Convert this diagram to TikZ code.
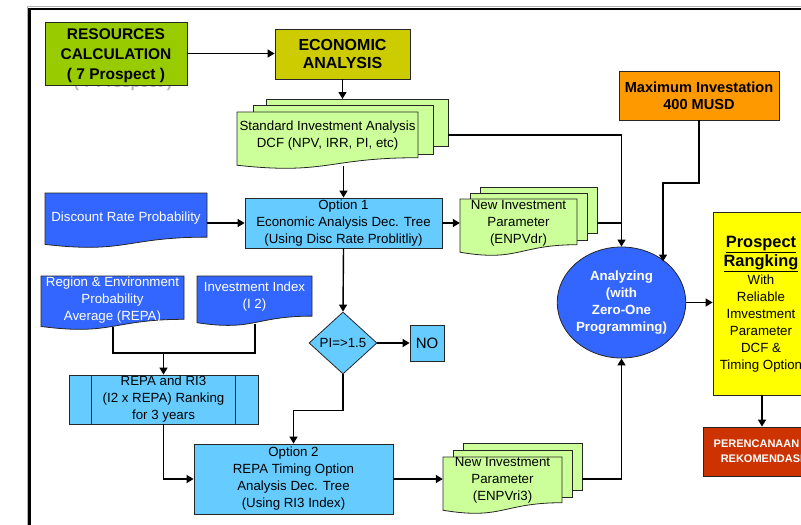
\documentclass[tikz,border=0pt]{standalone}
\usepackage{fontspec}
\setmainfont{Liberation Sans}
\usetikzlibrary{arrows.meta,shapes.geometric,calc}
\definecolor{resgreen}{HTML}{99CC00}
\definecolor{econcol}{HTML}{CCCC00}
\definecolor{orangecol}{HTML}{FF9900}
\definecolor{docgreen}{HTML}{CCFF99}
\definecolor{lblue}{HTML}{66CCFF}
\definecolor{dblue}{HTML}{3366FF}
\definecolor{ylw}{HTML}{FFFF00}
\definecolor{redcol}{HTML}{CC3300}
\newcommand{\docshp}[5]{\filldraw[docline,fill=#5] (#1,#2) -- ({#1+#3},#2) -- ({#1+#3},{#2+0.802*#4}) .. controls ({#1+0.5*#3},{#2+0.802*#4}) and ({#1+0.5*#3},{#2+1.1075*#4}) .. (#1,{#2+0.934*#4}) -- cycle;}
\newcommand{\layerrect}[5]{\filldraw[docline,fill=#5] (#1,#2) rectangle (#3,#4);}
\begin{document}
\begin{tikzpicture}[x=1pt,y=-1pt,
  docline/.style={draw=black!85,line width=0.8pt},
  box/.style={draw=black!85,line width=0.8pt,align=center,inner sep=0pt},
  txt/.style={align=center,inner sep=0pt,font=\fontsize{13.3}{17}\selectfont},
  arr/.style={line width=1.4pt,-{Triangle[length=7pt,width=8pt]}},
  ln/.style={line width=1.4pt}]
\useasboundingbox (0,0) rectangle (801,525);
\clip (0,0) rectangle (801,525);
% frame
\draw[black!30,line width=1pt] (27.5,525) -- (27.5,6.8) -- (801,6.8);
\draw[black,line width=2.2pt] (29.5,525) -- (29.5,9) -- (801,9);
% ghost text
\node[inner sep=0pt,text=black!28,font=\fontsize{15.5}{20}\selectfont\bfseries] at (123,83) {( 7 Prospect )};
% top boxes
\node[box,fill=resgreen,minimum width=142,minimum height=63] (res) at (116,53.5) {};
\node[align=center,inner sep=0pt,font=\fontsize{15.5}{20}\selectfont\bfseries] at (116,56) {RESOURCES\\CALCULATION\\( 7 Prospect )};
\node[box,fill=econcol,minimum width=135,minimum height=50,font=\fontsize{16}{18.5}\selectfont\bfseries] (econ) at (342.5,54) {ECONOMIC\\ANALYSIS};
\node[box,fill=orangecol,minimum width=160,minimum height=49,font=\fontsize{14.6}{17}\selectfont\bfseries] (maxinv) at (699,95.5) {Maximum Investation\\400 MUSD};
% standard investment analysis multi-document
\layerrect{266}{99}{448}{146}{docgreen}
\layerrect{253}{105}{433}{154}{docgreen}
\docshp{237}{112}{181}{57}{docgreen}
\node[txt,minimum width=181] (sia) at (327.5,135.5) {Standard Investment Analysis\\DCF (NPV, IRR, PI, etc)};
\coordinate (siaT) at (342.5,99);
\coordinate (siaB) at (343.5,166);
\coordinate (siaR) at (448,135);
% discount rate doc
\docshp{45}{193}{162}{55}{dblue}
\node[txt,text=white,minimum width=162] (disc) at (126,218.3) {Discount Rate Probability};
% option 1
\node[box,txt,draw=black!85,fill=lblue,minimum width=197,minimum height=50] (opt1) at (343.5,223) {Option 1\\Economic Analysis Dec. Tree\\(Using Disc Rate Problitliy)};
% ENPVdr multi doc
\layerrect{480}{187}{597}{233}{docgreen}
\layerrect{470}{193}{587}{240}{docgreen}
\docshp{460}{199}{117}{57}{docgreen}
\node[txt,minimum width=117] (dr) at (518.5,223.5) {New Investment\\Parameter\\(ENPVdr)};
\coordinate (drR) at (597,223);
% REPA and index docs
\docshp{41}{276}{143}{54}{dblue}
\node[txt,text=white,minimum width=143] (repa) at (112.5,300) {Region \& Environment\\Probability\\Average (REPA)};
\docshp{197}{276}{115}{50}{dblue}
\node[txt,text=white,minimum width=115] (inv) at (254.5,297) {Investment Index\\(I 2)};
\coordinate (repaB) at (113,327);
\coordinate (invB) at (255,324);
\coordinate (jn2) at (180,353);
\coordinate (jn) at (163.5,353);
% diamond and NO
\node[diamond,draw=black!85,line width=0.8pt,fill=lblue,inner sep=0pt,minimum width=68,minimum height=62,font=\fontsize{13.3}{17}\selectfont] (dia) at (343,343) {PI=>1.5};
\node[box,txt,draw=black!85,fill=lblue,minimum width=34,minimum height=36,font=\fontsize{15}{17}\selectfont] (no) at (427,343) {NO};
% REPA and RI3 predefined process
\node[box,txt,draw=black!85,fill=lblue,minimum width=189,minimum height=49] (repa3) at (163.5,399.5) {REPA and RI3\\(I2 x REPA) Ranking\\for 3 years};
\draw[docline] ([xshift=23pt]repa3.north west) -- ([xshift=23pt]repa3.south west);
\draw[docline] ([xshift=-23pt]repa3.north east) -- ([xshift=-23pt]repa3.south east);
% option 2
\node[box,txt,draw=black!85,fill=lblue,minimum width=199,minimum height=70] (opt2) at (293.5,479) {Option 2\\REPA Timing Option\\Analysis Dec. Tree\\(Using RI3 Index)};
% ENPVri3 multi doc
\layerrect{463}{443}{582}{490}{docgreen}
\layerrect{453}{450}{572}{497}{docgreen}
\docshp{443}{457}{119}{57}{docgreen}
\node[txt,minimum width=119] (ri3) at (502.5,480) {New Investment\\Parameter\\(ENPVri3)};
\coordinate (ri3R) at (582,479);
% analyzing
\node[ellipse,draw=black!85,line width=0.8pt,fill=dblue,inner sep=0pt,minimum width=119,minimum height=111,align=center,text=white,font=\fontsize{13.3}{17}\selectfont\bfseries] (ana) at (621.5,302.5) {Analyzing\\(with\\Zero-One\\Programming)};
\coordinate (mi1) at (663,183);
% prospect ranking
\node[box,fill=ylw,minimum width=98,minimum height=183] (prosp) at (762,303.5) {};
\node[align=center,inner sep=0pt,font=\fontsize{13.3}{17}\selectfont] at (761,304) {{\fontsize{16.4}{20}\selectfont\bfseries\underline{Prospect}}\\[1pt]{\fontsize{16.4}{20}\selectfont\bfseries\underline{Rangking}}\\[1pt]With\\Reliable\\Imvestment\\Parameter\\DCF \&\\Timing Option};
\node[box,fill=redcol,text=white,minimum width=118,minimum height=49,font=\fontsize{11}{15}\selectfont\bfseries] (per) at (762,451.5) {PERENCANAAN \&\\REKOMENDASI};
% connectors
\draw[arr] (res.east) -- (res.east -| econ.west);
\draw[arr] (econ.south) -- (siaT);
\draw[arr] (opt1.north |- siaB) -- (opt1.north);
\draw[arr] (siaR) -| (ana.north);
\draw[ln] (drR) -- (drR -| ana.north);
\draw[arr] (disc.east |- opt1.west) -- (opt1.west);
\draw[arr] (opt1.east) -- (opt1.east -| dr.west);
\draw[arr] (maxinv.south) |- (mi1) -- (mi1 |- ana.43.8);
\draw[arr] (opt1.south) -- (dia.north);
\draw[arr] (dia.east) -- (no.west);
\draw[arr] (dia.south) -- ++(0,36) -| (opt2.north);
\draw[ln] (repaB) |- (jn2) -| (invB);
\draw[arr] (jn) -- (repa3.north);
\draw[arr] (repa3.south) |- (opt2.west);
\draw[arr] (opt2.east) -- (opt2.east -| ri3.west);
\draw[arr] (ri3R) -| (ana.south);
\draw[arr] (ana.east) -- (ana.east -| prosp.west);
\draw[arr] (prosp.south) -- (per.north);
\end{tikzpicture}
\end{document}
